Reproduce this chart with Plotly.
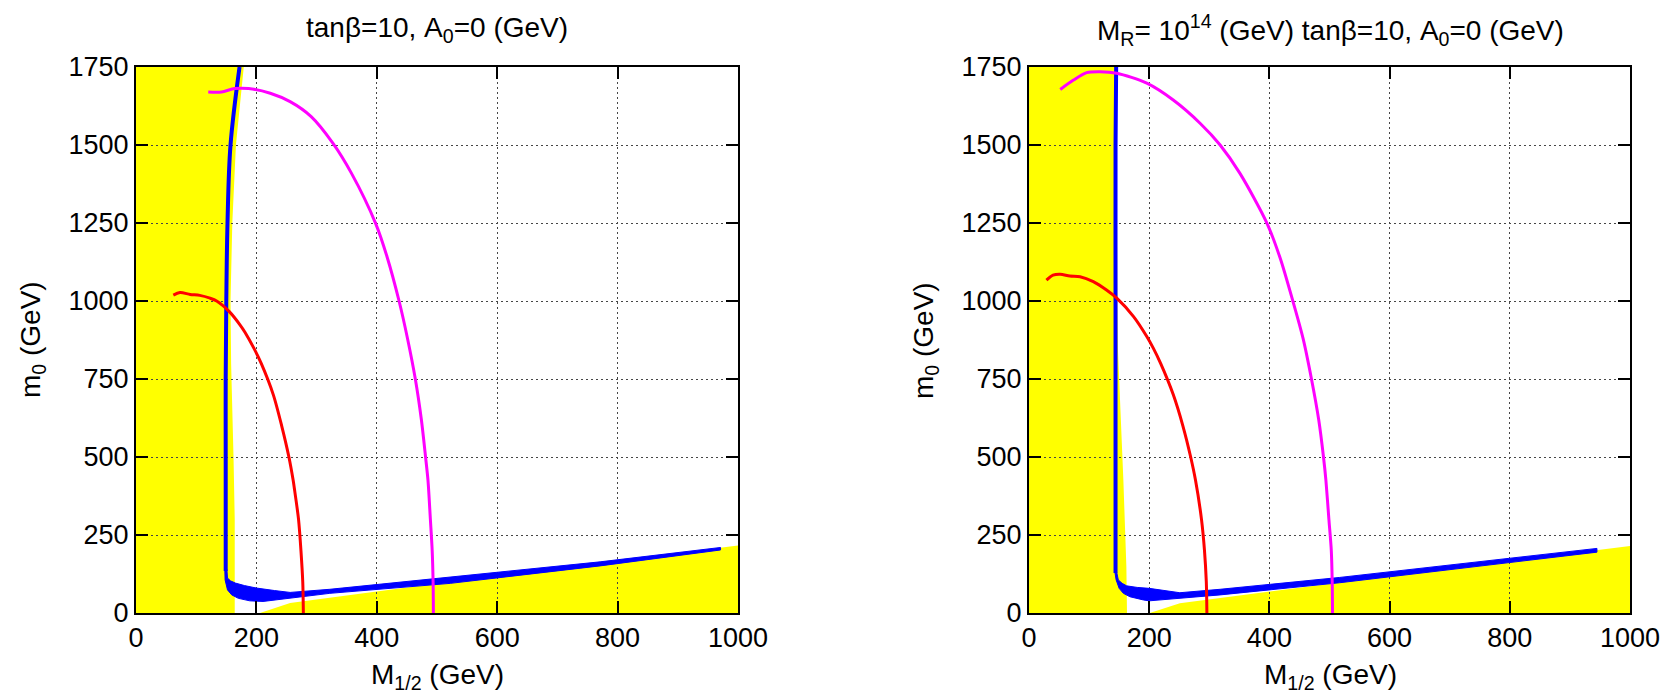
import plotly.graph_objects as go

# ---------------- data ----------------
x_ticks = [0, 200, 400, 600, 800, 1000]
y_ticks = [0, 250, 500, 750, 1000, 1250, 1500, 1750]

# Left panel (tan beta = 10, A0 = 0)
L_excl_x = [0, 0, 179, 166, 160, 157, 158, 162, 164, 164]
L_excl_y = [0, 1750, 1750, 1500, 1250, 1000, 800, 500, 300, 0]
L_stau_x = [206, 256, 522, 1000, 1000]
L_stau_y = [0, 32, 100, 216, 0]

L_blue_vert_x = [172, 157, 152, 150, 149, 149, 149, 149]
L_blue_vert_y = [1750, 1500, 1250, 1000, 750, 500, 250, 135]
L_band_up_x = [151, 152, 157, 165, 180, 200, 230, 256, 322, 522, 771, 971]
L_band_up_y = [140, 112, 103, 96, 88, 80, 72, 66, 76, 116, 164, 210]
L_band_lo_x = [971, 771, 522, 322, 250, 211, 189, 170, 159, 152, 148, 147.5]
L_band_lo_y = [202, 151, 95, 63, 46, 37, 39, 47, 58, 74, 106, 140]

L_red_x = [62, 73, 90, 106, 123, 134, 155, 173, 181, 196, 208, 228, 242, 254, 261, 263, 270, 274, 277, 278]
L_red_y = [1019, 1027, 1021, 1018, 1009, 1000, 966, 923, 900, 848, 800, 700, 600, 500, 426, 400, 300, 200, 100, 0]

L_mag_x = [120, 142, 164, 187, 223, 256, 291, 327, 358, 398, 417, 437, 451, 464, 474, 481, 485, 489, 492, 493.5, 494]
L_mag_y = [1670, 1670, 1681, 1681, 1666, 1639, 1591, 1506, 1409, 1249, 1142, 1000, 880, 750, 620, 500, 426, 300, 200, 100, 0]

# Right panel (M_R = 10^14 GeV)
R_excl_x = [0, 0, 146, 146, 147, 148, 157, 162, 163, 163]
R_excl_y = [0, 1750, 1750, 1500, 1000, 843, 426, 150, 10, 0]
R_stau_x = [201, 251, 517, 1000, 1000]
R_stau_y = [0, 31, 98, 215, 0]

R_blue_vert_x = [145, 144, 144, 144, 144, 144]
R_blue_vert_y = [1750, 1500, 1000, 500, 250, 128]
R_band_up_x = [146, 148.6, 155, 162.5, 180, 200, 251, 318, 517, 945]
R_band_up_y = [130, 106, 95, 87, 82, 79, 65, 76, 114, 207]
R_band_lo_x = [945, 517, 318, 235, 200, 190, 168, 157, 150, 145, 143]
R_band_lo_y = [195, 97, 58, 44, 39, 42, 52, 63, 79, 106, 130]

R_red_x = [29, 40, 52, 68, 85, 107, 129, 146, 174, 196, 207, 219, 240, 256, 269, 277, 287, 292, 295, 296]
R_red_y = [1067, 1083, 1086, 1080, 1078, 1062, 1035, 1009, 950, 886, 848, 800, 700, 600, 500, 426, 300, 200, 100, 0]

R_mag_x = [52, 74, 96, 118, 146, 196, 240, 285, 318, 351, 396, 418, 439, 456, 470, 482, 490, 494, 499, 503, 504.5, 505]
R_mag_y = [1678, 1708, 1732, 1735, 1730, 1698, 1644, 1569, 1500, 1409, 1249, 1137, 1000, 880, 750, 620, 500, 426, 300, 200, 100, 0]

# ---------------- styling ----------------
W, H = 1678, 693
FONT = "Liberation Sans, Arial, Helvetica, sans-serif"
YELLOW = "#FFFF00"
BLUE = "#0000FF"
RED = "#FF0000"
MAGENTA = "#FF00FF"

LEFT_DOM = [136 / W, 738 / W]
RIGHT_DOM = [1029 / W, 1630 / W]
Y_DOM = [1 - 613 / H, 1 - 67 / H]

fig = go.Figure()


def add_panel(xa, ya, blue_vx, blue_vy, up_x, up_y, lo_x, lo_y, red_x, red_y, mag_x, mag_y):
    fig.add_trace(go.Scatter(x=up_x + lo_x, y=up_y + lo_y, mode="lines", fill="toself",
                             fillcolor=BLUE, line=dict(color=BLUE, width=1),
                             xaxis=xa, yaxis=ya, showlegend=False, hoverinfo="skip"))
    fig.add_trace(go.Scatter(x=blue_vx, y=blue_vy, mode="lines",
                             line=dict(color=BLUE, width=4, shape="spline"),
                             xaxis=xa, yaxis=ya, showlegend=False))
    fig.add_trace(go.Scatter(x=red_x, y=red_y, mode="lines",
                             line=dict(color=RED, width=3, shape="spline", smoothing=0.8),
                             xaxis=xa, yaxis=ya, showlegend=False))
    fig.add_trace(go.Scatter(x=mag_x, y=mag_y, mode="lines",
                             line=dict(color=MAGENTA, width=3, shape="spline", smoothing=0.8),
                             xaxis=xa, yaxis=ya, showlegend=False))


def poly_path(xs, ys):
    pts = [f"{x},{y}" for x, y in zip(xs, ys)]
    return "M " + " L ".join(pts) + " Z"


add_panel("x", "y", L_blue_vert_x, L_blue_vert_y, L_band_up_x, L_band_up_y,
          L_band_lo_x, L_band_lo_y, L_red_x, L_red_y, L_mag_x, L_mag_y)
add_panel("x2", "y2", R_blue_vert_x, R_blue_vert_y, R_band_up_x, R_band_up_y,
          R_band_lo_x, R_band_lo_y, R_red_x, R_red_y, R_mag_x, R_mag_y)

shapes = []
for xr, yr, xs, ys in [("x", "y", L_excl_x, L_excl_y), ("x", "y", L_stau_x, L_stau_y),
                       ("x2", "y2", R_excl_x, R_excl_y), ("x2", "y2", R_stau_x, R_stau_y)]:
    shapes.append(dict(type="path", path=poly_path(xs, ys), xref=xr, yref=yr,
                       fillcolor=YELLOW, line=dict(width=0), layer="below"))

axis_common = dict(
    showline=True, linecolor="black", linewidth=2, mirror="ticks",
    ticks="inside", ticklen=12, tickwidth=2, tickcolor="black",
    showgrid=True, gridcolor="rgb(70,70,70)", gridwidth=1, griddash="2px,3px",
    zeroline=False, automargin=False,
    tickfont=dict(family=FONT, size=27, color="black"),
)

fig.update_layout(
    template="none",
    width=W, height=H,
    margin=dict(l=0, r=0, t=0, b=0, pad=0, autoexpand=False),
    paper_bgcolor="white", plot_bgcolor="white",
    showlegend=False,
    shapes=shapes,
    xaxis=dict(domain=LEFT_DOM, anchor="y", range=[0, 1000], tickvals=x_ticks, **axis_common),
    yaxis=dict(domain=Y_DOM, anchor="x", range=[0, 1750], tickvals=y_ticks, **axis_common),
    xaxis2=dict(domain=RIGHT_DOM, anchor="y2", range=[0, 1000], tickvals=x_ticks, **axis_common),
    yaxis2=dict(domain=Y_DOM, anchor="x2", range=[0, 1750], tickvals=y_ticks, **axis_common),
)

ann_font = dict(family=FONT, size=28, color="black")
annotations = [
    dict(text="tanβ=10, A<sub>0</sub>=0 (GeV)", x=437 / W, y=1 - 30 / H),
    dict(text="M<sub>R</sub>= 10<sup>14</sup> (GeV) tanβ=10, A<sub>0</sub>=0 (GeV)", x=1330 / W, y=1 - 30 / H),
    dict(text="M<sub>1/2</sub> (GeV)", x=437 / W, y=1 - 676 / H),
    dict(text="M<sub>1/2</sub> (GeV)", x=1330 / W, y=1 - 676 / H),
    dict(text="m<sub>0</sub> (GeV)", x=32 / W, y=1 - 340 / H, textangle=-90),
    dict(text="m<sub>0</sub> (GeV)", x=925 / W, y=1 - 340 / H, textangle=-90),
]
for a in annotations:
    a.update(xref="paper", yref="paper", xanchor="center", yanchor="middle",
             showarrow=False, font=ann_font)
fig.update_layout(annotations=annotations)

fig.write_html("out.html")
